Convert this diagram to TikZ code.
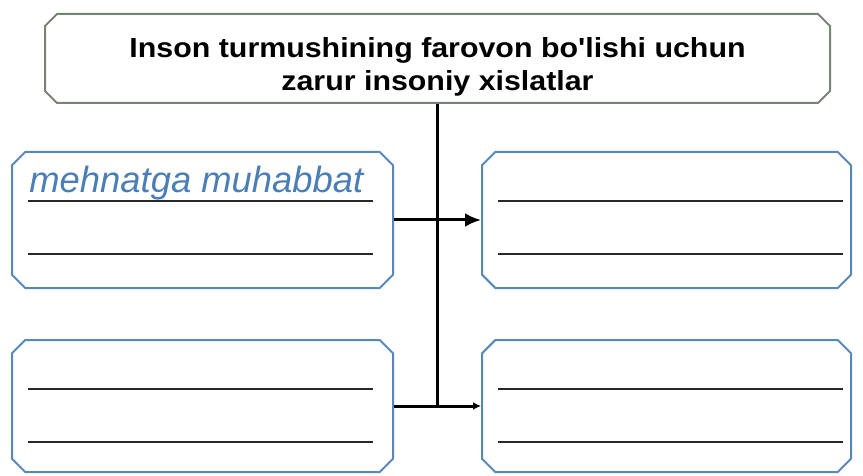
\documentclass[tikz,border=0pt]{standalone}
\usepackage{fontspec}
\setmainfont{Liberation Sans}
\newfontfamily\titlefont[FakeStretch=1.1]{Liberation Sans}
\usetikzlibrary{arrows.meta,shapes.misc}
\definecolor{boxblue}{RGB}{88,136,184}
\definecolor{boxgray}{RGB}{122,130,120}
\definecolor{handblue}{RGB}{76,126,182}
\definecolor{inkline}{RGB}{40,40,40}

\begin{document}
\begin{tikzpicture}[x=0.5pt, y=-0.5pt,
  titlebox/.style={chamfered rectangle, chamfered rectangle xsep=3pt,
    chamfered rectangle ysep=3pt,
    draw=boxgray, line width=1pt, minimum width=392.5pt, minimum height=44.5pt},
  titletext/.style={align=center, inner sep=0pt,
    font=\titlefont\bfseries\fontsize{13.8}{16.5}\selectfont},
  answerbox/.style={chamfered rectangle, chamfered rectangle xsep=7pt,
    chamfered rectangle ysep=7pt,
    draw=boxblue, line width=1pt, minimum height=68pt},
  fillline/.style={draw=inkline, line width=1.2pt},
  handtext/.style={text=handblue, inner sep=0pt,
    font=\itshape\fontsize{18.2}{20}\selectfont},
  link/.style={line width=1.5pt, draw=black}]

\useasboundingbox (0,0) rectangle (863,476);

% Main box
\node[titlebox] (title) at (437.5,58.5) {};
\node[titletext] (titletxt) at (437.5,67)
  {Inson turmushining farovon bo'lishi uchun\\zarur insoniy xislatlar};

% Answer boxes
\node[answerbox, minimum width=190.5pt] (lt) at (202.5,220) {};
\node[answerbox, minimum width=184.5pt] (rt) at (666.5,220) {};
\node[answerbox, minimum width=190.5pt, minimum height=66pt] (lb) at (202.5,406) {};
\node[answerbox, minimum width=184.5pt, minimum height=66pt] (rb) at (666.5,406) {};

% Lines to write on
\foreach \b/\r in {lt/21,rt/9,lb/21,rb/9}{
  \coordinate (\b-nw) at (\b.west |- \b.north);
  \coordinate (\b-ne) at (\b.east |- \b.north);
  \draw[fillline] ([shift={(17,50)}]\b-nw) -- ([shift={(-\r,50)}]\b-ne);
  \draw[fillline] ([shift={(17,103)}]\b-nw) -- ([shift={(-\r,103)}]\b-ne);
}
\node[handtext, anchor=base west] (lttext) at ([shift={(18,41)}]lt-nw) {mehnatga muhabbat};

% Connectors
\coordinate (knot) at (title.south |- lb.east);
\draw[link] (title.south) -- (knot);
\draw[link, -{Latex[length=8pt,width=7pt]}] (lt.east) -- (rt.west);
\draw[link, -{Latex[length=4pt,width=4pt]}] (lb.east) -- (rb.west);

\end{tikzpicture}
\end{document}
